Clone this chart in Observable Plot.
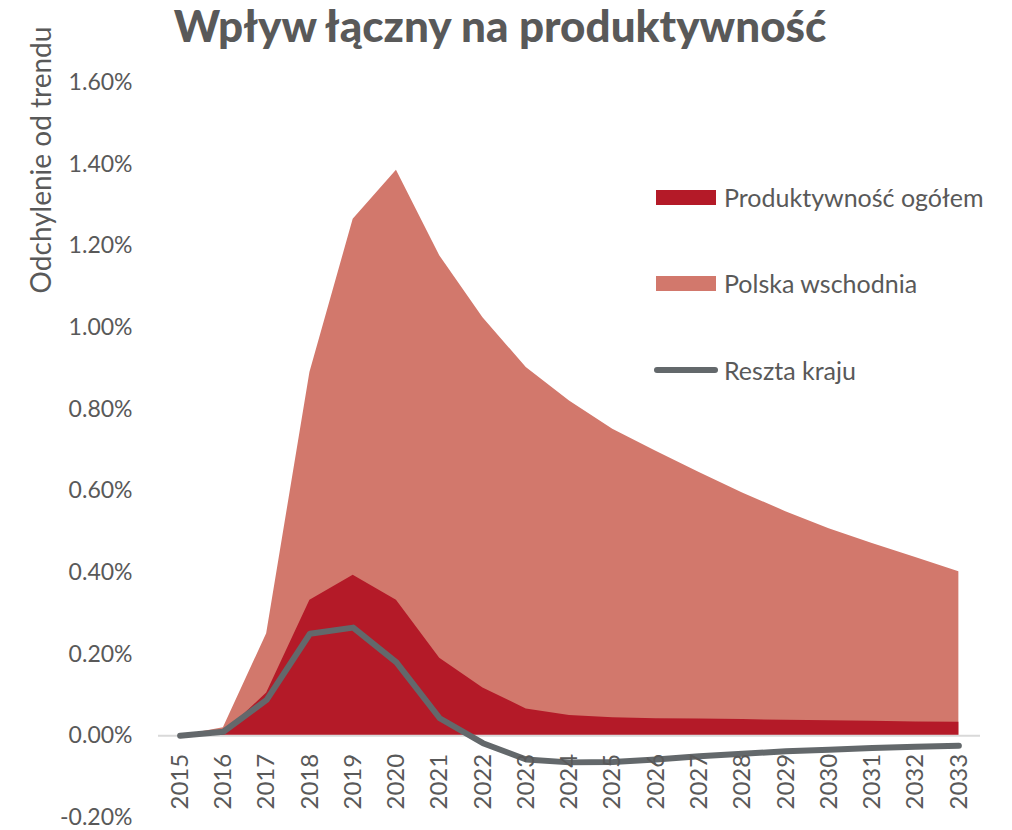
<!DOCTYPE html>
<html>
<head>
<meta charset="utf-8">
<script src="https://cdn.jsdelivr.net/npm/d3@7"></script>
<script src="https://cdn.jsdelivr.net/npm/@observablehq/plot@0.6"></script>
<style>
  body { margin: 0; background: #fff; }
  #wrap { position: relative; width: 1012px; height: 830px; font-family: Lato, "Open Sans", sans-serif; color: #595959; }
  #title { position: absolute; left: 0; top: -2px; width: 1000px; text-align: center; font-weight: 900; font-size: 44px; line-height: 54px; color: #595959; }
  #ylabel { position: absolute; left: 40px; top: 160px; transform: translate(-50%, -50%) rotate(-90deg); white-space: nowrap; font-size: 28px; color: #595959; }
  .leg { position: absolute; left: 654px; font-size: 25px; color: #595959; display: flex; align-items: center; white-space: nowrap; }
  .sw { width: 60px; height: 15px; margin-right: 8px; }
  .ln { width: 64px; height: 6px; border-radius: 3px; background: #63686B; margin-right: 6px; }
</style>
</head>
<body>
<div id="wrap">
  <div id="chart"></div>
  <div id="title">Wpływ łączny na produktywność</div>
  <div id="ylabel">Odchylenie od trendu</div>
  <div id="legend"></div>
</div>
<script>
const years = [2015,2016,2017,2018,2019,2020,2021,2022,2023,2024,2025,2026,2027,2028,2029,2030,2031,2032,2033];
const polskaWschodnia = [0.00,0.02,0.25,0.89,1.265,1.385,1.176,1.024,0.902,0.82,0.751,0.697,0.645,0.595,0.549,0.507,0.471,0.437,0.402];
const produktywnoscOgolem = [0.00,0.005,0.105,0.332,0.393,0.332,0.19,0.117,0.066,0.05,0.044,0.042,0.041,0.040,0.038,0.037,0.036,0.034,0.033];
const resztaKraju = [0.00,0.01,0.088,0.25,0.265,0.18,0.043,-0.018,-0.058,-0.065,-0.064,-0.058,-0.05,-0.044,-0.038,-0.034,-0.03,-0.027,-0.024];
const yTicks = [-0.2,0,0.2,0.4,0.6,0.8,1.0,1.2,1.4,1.6];
const seriesNames = ["Produktywność ogółem","Polska wschodnia","Reszta kraju"];
const seriesColors = ["#B41A28","#D2786C","#63686B"];

const rows = years.map((y,i) => ({year:y, pw:polskaWschodnia[i], po:produktywnoscOgolem[i], rk:resztaKraju[i]}));

const chart = Plot.plot({
  width: 1012,
  height: 830,
  marginLeft: 158,
  marginRight: 32,
  marginTop: 82,
  marginBottom: 13,
  style: {fontFamily: "Lato, 'Open Sans', sans-serif", color: "#595959", background: "#fff"},
  x: {domain: [2014.5, 2033.5], axis: null},
  y: {domain: [-0.2, 1.6], axis: null},
  marks: [
    Plot.areaY(rows, {x: "year", y: "pw", fill: seriesColors[1]}),
    Plot.areaY(rows, {x: "year", y: "po", fill: seriesColors[0]}),
    Plot.ruleY([0], {stroke: "#D9D9D9", strokeWidth: 2}),
    Plot.lineY(rows, {x: "year", y: "rk", stroke: seriesColors[2], strokeWidth: 6, strokeLinecap: "round", strokeLinejoin: "round"}),
    Plot.axisY(yTicks, {tickSize: 0, tickPadding: 26, fontSize: 23, tickFormat: d => d.toFixed(2) + "%", fill: "#595959"}),
    Plot.text(years, {x: d => d, y: 0, text: d => String(d), rotate: -90, textAnchor: "end", lineAnchor: "middle", dy: 18, fontSize: 24, fill: "#595959"})
  ]
});
document.getElementById("chart").appendChild(chart);

const legTops = [197, 283, 370];
const leg = document.getElementById("legend");
seriesNames.forEach((name, i) => {
  const d = document.createElement("div");
  d.className = "leg";
  d.style.top = (legTops[i] - 16) + "px";
  d.style.height = "32px";
  const s = document.createElement("div");
  if (i < 2) { s.className = "sw"; s.style.background = seriesColors[i]; s.style.marginLeft = "2px"; }
  else { s.className = "ln"; }
  d.appendChild(s);
  const t = document.createElement("span");
  t.textContent = name;
  d.appendChild(t);
  leg.appendChild(d);
});
</script>
</body>
</html>
